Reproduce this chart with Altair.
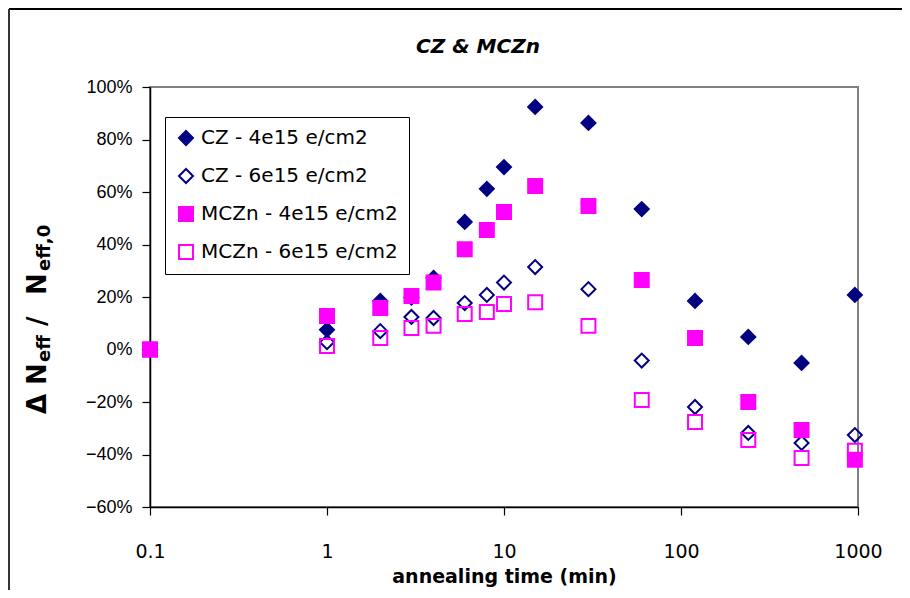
import altair as alt
import pandas as pd

# ---- data ----
times = [0.1, 1, 2, 3, 4, 6, 8, 10, 15, 30, 60, 120, 240, 480, 960]
cz_4e15 = [0, 7.5, 18.5, 19.8, 27.3, 48.6, 61.2, 69.5, 92.4, 86.3, 53.5, 18.5, 4.8, -5.1, 20.8]
cz_6e15 = [0, 2.8, 7.0, 12.4, 12.0, 17.7, 20.8, 25.5, 31.4, 23.0, -4.2, -21.9, -31.8, -35.6, -32.6]
mczn_4e15 = [0, 12.8, 15.8, 20.4, 25.5, 38.2, 45.5, 52.4, 62.3, 54.7, 26.5, 4.4, -20.0, -30.7, -42.0]
mczn_6e15 = [0, 1.3, 4.4, 8.2, 9.0, 13.5, 14.3, 17.3, 18.0, 9.0, -19.2, -27.6, -34.5, -41.3, -38.6]

series_names = ["CZ - 4e15 e/cm2", "CZ - 6e15 e/cm2", "MCZn - 4e15 e/cm2", "MCZn - 6e15 e/cm2"]
series_values = [cz_4e15, cz_6e15, mczn_4e15, mczn_6e15]
stroke_colors = ["#000080", "#000080", "#FF00FF", "#FF00FF"]
fill_colors = ["#000080", "transparent", "#FF00FF", "transparent"]
shapes = ["diamond", "diamond", "square", "square"]

y_ticks = [-0.6, -0.4, -0.2, 0.0, 0.2, 0.4, 0.6, 0.8, 1.0]
x_ticks = [0.1, 1, 10, 100, 1000]

rows = []
for order, (name, vals) in enumerate(zip(series_names, series_values)):
    for t, v in zip(times, vals):
        rows.append({"time": t, "value": v / 100.0, "series": name, "order": order})
df = pd.DataFrame(rows)

W, H = 708, 420
SANS = "DejaVu Sans"

leg = alt.Legend(title=None)
points = alt.Chart(df).mark_point(filled=True, opacity=1, strokeWidth=2, size=195).encode(
    x=alt.X("time:Q",
            scale=alt.Scale(type="log", domain=[0.1, 1000], nice=False),
            axis=alt.Axis(values=x_ticks, format="~g", title="annealing time (min)",
                          grid=False, domainColor="black", domainWidth=1.5,
                          tickColor="black", tickSize=8, tickWidth=1.2,
                          labelFont=SANS, labelFontSize=19, labelColor="black",
                          labelPadding=27, labelFlush=False,
                          titleFont=SANS, titleFontSize=19, titleFontWeight="bold",
                          titleColor="black", titlePadding=6)),
    y=alt.Y("value:Q",
            scale=alt.Scale(domain=[-0.6, 1.0], nice=False, zero=False),
            axis=alt.Axis(values=y_ticks, format=".0%", title=None,
                          grid=False, domainColor="black", domainWidth=1.5,
                          tickColor="black", tickSize=8, tickWidth=1.2,
                          labelFont="Liberation Sans", labelFontSize=18,
                          labelColor="black", labelPadding=10)),
    stroke=alt.Stroke("series:N", scale=alt.Scale(domain=series_names, range=stroke_colors), legend=leg),
    fill=alt.Fill("series:N", scale=alt.Scale(domain=series_names, range=fill_colors), legend=leg),
    shape=alt.Shape("series:N", scale=alt.Scale(domain=series_names, range=shapes), legend=leg),
    order=alt.Order("order:Q"),
)

dummy = pd.DataFrame({"k": [0]})

def txt(s, x, y, size, weight="bold", style="normal", angle=0, align="left", baseline="alphabetic"):
    return alt.Chart(dummy).mark_text(
        text=s, font=SANS, fontSize=size, fontWeight=weight, fontStyle=style,
        angle=angle, align=align, baseline=baseline, color="black",
    ).encode(x=alt.value(x), y=alt.value(y))

# page coords -> view coords: subtract (150, 87)
title = txt("CZ & MCZn", 478 - 150, 47 - 87, 20, style="italic", align="center", baseline="middle")

BX = 46 - 150
SX = 50 - 150
ytitle = [
    txt("Δ", BX, 414 - 87, 26, angle=270),
    txt("N", BX, 385 - 87, 26, angle=270),
    txt("eff", SX, 362 - 87, 18, angle=270),
    txt("/", BX, 326 - 87, 26, angle=270),
    txt("N", BX, 295 - 87, 26, angle=270),
    txt("eff,0", SX, 271 - 87, 18, angle=270),
]

# outer chart-area frame (top and left edges)
frame_top = alt.Chart(dummy).mark_rule(color="black", strokeWidth=2, clip=False).encode(
    x=alt.value(9 - 150), x2=alt.value(W + 60), y=alt.value(9 - 87))
frame_left = alt.Chart(dummy).mark_rule(color="#333333", strokeWidth=2, clip=False).encode(
    x=alt.value(9 - 150), y=alt.value(9 - 87), y2=alt.value(H + 100))

chart = alt.layer(frame_top, frame_left, points, title, *ytitle).properties(
    width=W, height=H,
    autosize=alt.AutoSizeParams(type="none"),
    padding={"left": 142, "top": 79, "right": 44, "bottom": 83},
    background="white",
).configure_view(
    stroke="#808080", strokeWidth=2, fill="white"
).configure_legend(
    orient="none", legendX=15, legendY=30,
    strokeColor="black", strokeWidth=1, fillColor="white",
    padding=11, rowPadding=16, symbolSize=195, symbolStrokeWidth=2,
    labelFont=SANS, labelFontSize=20, labelColor="black", labelOffset=5,
    labelLimit=400,
)

chart.save("out.html", embed_options={"renderer": "svg", "actions": False})
